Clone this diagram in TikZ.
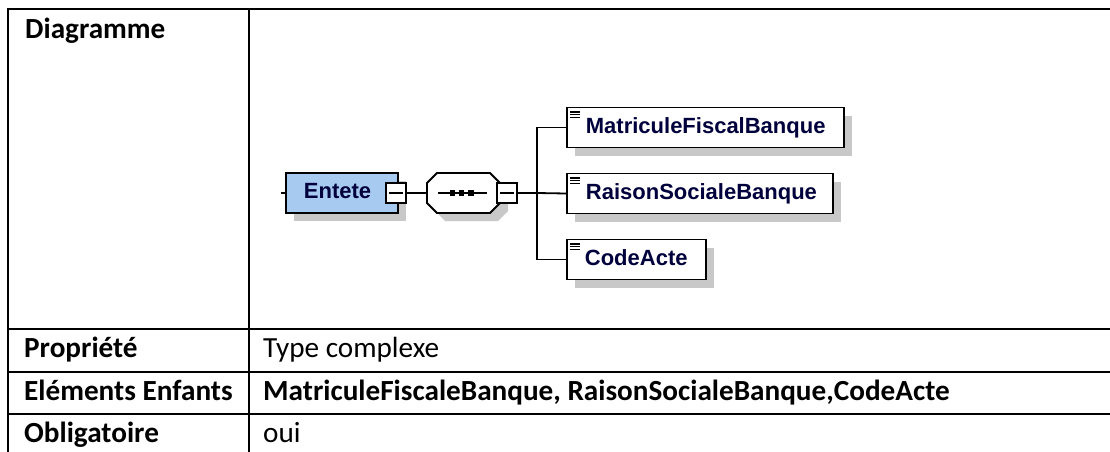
\documentclass[tikz,border=0pt]{standalone}
\usepackage{fontspec}
\setmainfont{Carlito}
\newfontfamily\xsfont{Liberation Sans}
\usetikzlibrary{shadows}
\definecolor{entblue}{RGB}{166,202,240}
\definecolor{shgray}{RGB}{200,200,200}
\definecolor{lblue}{RGB}{0,0,60}
\tikzset{
  tline/.style={line width=2.4pt, line cap=rect},
  tcell/.style={anchor=base west, inner sep=0pt, font=\fontsize{29.2}{31}\selectfont},
  tcellb/.style={tcell, font=\fontsize{29.2}{31}\selectfont\bfseries},
  shad/.style={drop shadow={shadow xshift=8pt, shadow yshift=-8pt, fill=shgray, opacity=1}},
  xbox/.style={draw=black, line width=1.8pt, fill=white, shad, minimum height=40pt,
    inner xsep=0pt, inner ysep=0pt, text height=16pt, text depth=4.5pt, align=left,
    font=\xsfont\bfseries\fontsize{22}{24}\selectfont, text=lblue, anchor=west},
  leaf/.style={xbox, path picture={
    \foreach \k in {0,1,2}
      \draw[line width=1.1pt] ([xshift=3.5pt,yshift={-4.5pt-2.7pt*\k}]path picture bounding box.north west) -- ++(10pt,0pt);}},
  mbox/.style={draw=black, fill=white, line width=1.6pt, minimum size=20pt, inner sep=0pt,
    path picture={\draw[line width=1.5pt] ([xshift=-7pt]path picture bounding box.center) -- ([xshift=7pt]path picture bounding box.center);}},
  conn/.style={line width=1.8pt, draw=black},
}
\begin{document}
\begin{tikzpicture}[x=1pt,y=-1pt]
\useasboundingbox (0,0) rectangle (1110,452);
% table
\draw[tline] (8,9) -- (1110,9);
\draw[tline] (8,9) -- (8,452);
\draw[tline] (249,9) -- (249,452);
\draw[tline] (8,329) -- (1110,329);
\draw[tline] (8,372) -- (1110,372);
\draw[tline] (8,414) -- (1110,414);
\node[tcellb] (h1) at (25,38) {Diagramme};
\node[tcellb] (h2) at (24,357.5) {Propriété};
\node[tcellb] (h3) at (24,400) {Eléments Enfants};
\node[tcellb] (h4) at (24,442.5) {Obligatoire};
\node[tcell] (v2) at (263,357.5) {Type complexe};
\node[tcellb] (v3) at (263,400) {MatriculeFiscaleBanque, RaisonSocialeBanque,CodeActe};
\node[tcell] (v4) at (263,442.5) {oui};
% diagram
\coordinate (seqW) at (427,193);
\coordinate (trunk) at (537,193);
\coordinate (tick) at (281,193);
\node[xbox, fill=entblue, minimum width=112pt, text width=76pt] (entete) at (285,193) {Entete};
\draw[conn] (entete.west) -- (tick);
\node[mbox] (m1) at (396,193) {};
\draw[conn] (m1.east) -- (seqW);
\draw[line width=1.8pt, fill=white, shad] (437,173) -- (490,173) -- (500,183) -- (500,203) -- (490,213) -- (437,213) -- (427,203) -- (427,183) -- cycle;
\draw[line width=1.5pt] (438,193) -- (487,193);
\foreach \cx in {452.5,461.5,471} \fill (\cx-2.8,190.2) rectangle (\cx+2.8,195.8);
\node[mbox] (m2) at (507,193) {};
\draw[conn] (m2.east) -- (trunk);
\node[leaf, minimum width=277pt, text width=239pt] (c1) at (566,127.5) {MatriculeFiscalBanque};
\node[leaf, minimum width=266pt, text width=228pt] (c2) at (566,193.5) {RaisonSocialeBanque};
\node[leaf, minimum width=139pt, text width=103pt] (c3) at (566,259.5) {CodeActe};
\draw[conn] (trunk) |- (c1.west);
\draw[conn] (trunk) -- (c2.west);
\draw[conn] (trunk) |- (c3.west);
\end{tikzpicture}
\end{document}
